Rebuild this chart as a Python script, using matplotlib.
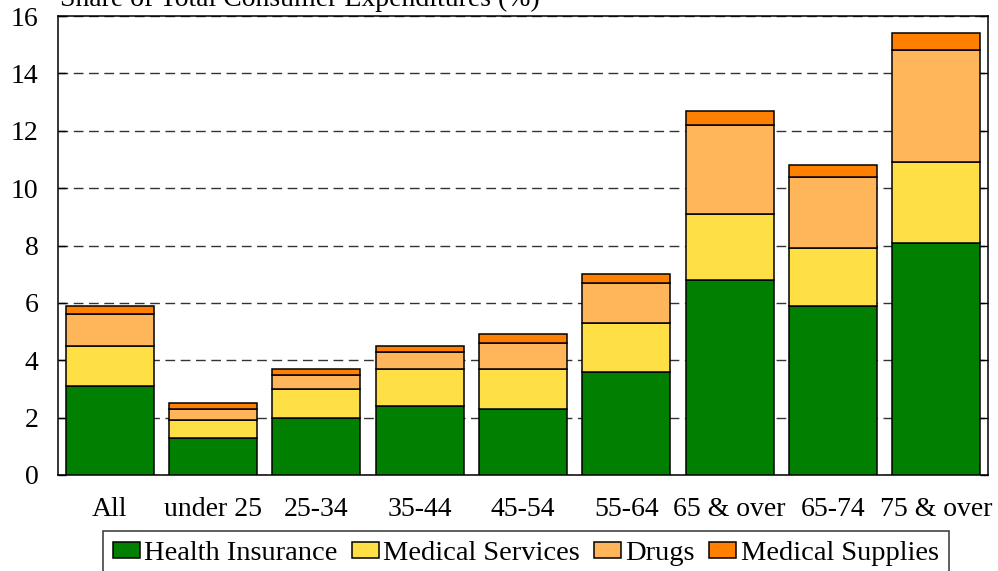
import numpy as np
import matplotlib.pyplot as plt

plt.rcParams['font.family'] = ['Liberation Serif', 'DejaVu Serif']

# data
groups = ['All', 'under 25', '25-34', '35-44', '45-54', '55-64',
          '65 & over', '65-74', '75 & over']
health_insurance = [3.1, 1.3, 2.0, 2.4, 2.3, 3.6, 6.8, 5.9, 8.1]
medical_services = [1.4, 0.6, 1.0, 1.3, 1.4, 1.7, 2.3, 2.0, 2.8]
drugs = [1.1, 0.4, 0.5, 0.6, 0.9, 1.4, 3.1, 2.5, 3.9]
medical_supplies = [0.3, 0.2, 0.2, 0.2, 0.3, 0.3, 0.5, 0.4, 0.6]

series = [('Health Insurance', health_insurance, '#007f00'),
          ('Medical Services', medical_services, '#ffdf46'),
          ('Drugs', drugs, '#ffb55a'),
          ('Medical Supplies', medical_supplies, '#ff8000')]

fig = plt.figure(figsize=(9.98, 5.71), dpi=100)
ax = fig.add_axes([58 / 998, 1 - 475 / 571, 930 / 998, 459 / 571])

x = np.arange(len(groups))
bottom = np.zeros(len(groups))
for name, vals, col in series:
    ax.bar(x, vals, 0.85, bottom=bottom, color=col, edgecolor='black',
           linewidth=1.1, label=name, zorder=3)
    bottom += np.array(vals)

ax.set_xlim(-0.5, len(groups) - 0.5)
ax.set_ylim(0, 16)
ax.set_yticks(np.arange(0, 17, 2))
ax.set_xticks(x)
ax.set_xticklabels(groups)

ax.yaxis.grid(True, linestyle=(0, (7, 4)), color='#333333', linewidth=1.0, zorder=0)
ax.set_axisbelow(True)
ax.tick_params(axis='y', direction='in', length=6, width=1, right=True,
               labelsize=20, pad=14)
ax.tick_params(axis='x', length=0, labelsize=20, pad=16)
for sp in ax.spines.values():
    sp.set_linewidth(1.1)

# axis title sits at the very top edge, partly clipped as in the original
fig.text(60 / 998, 1 - 6 / 571, 'Share of Total Consumer Expenditures (%)',
         ha='left', va='baseline', fontsize=20)

leg = fig.legend(loc='upper left', bbox_to_anchor=(103 / 998, 1 - 531 / 571),
                 ncol=4, fontsize=20.5, frameon=True, fancybox=False,
                 handlelength=0.95, handleheight=0.5, handletextpad=0.15,
                 columnspacing=0.5, borderpad=0.35, borderaxespad=0)
leg.get_frame().set_edgecolor('black')
leg.get_frame().set_linewidth(1.1)

fig.savefig('out.png', dpi=100)
